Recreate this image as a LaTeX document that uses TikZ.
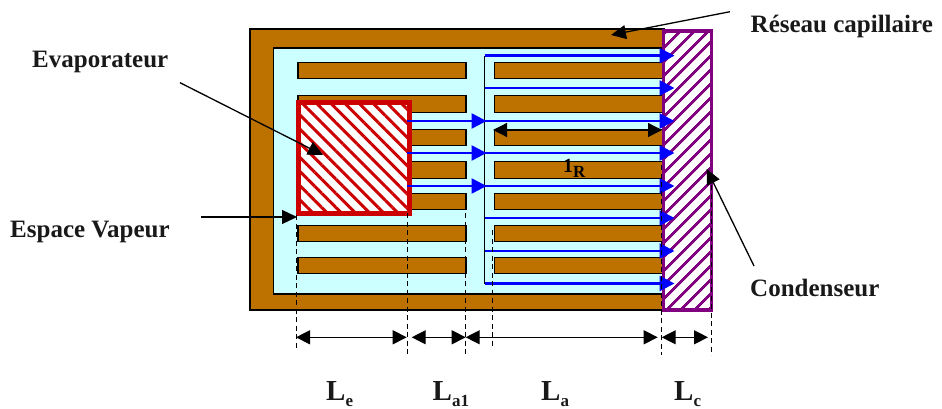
\documentclass[tikz,border=0pt]{standalone}
\usepackage{fontspec}
\setmainfont{Liberation Serif}
\usepackage{xcolor}
\usetikzlibrary{arrows.meta, patterns.meta}
\definecolor{wickbrown}{HTML}{BD7200}
\definecolor{vapourcyan}{HTML}{CCFFFF}
\definecolor{evapred}{HTML}{CC0000}
\definecolor{condpurple}{HTML}{800080}
\tikzset{
  wick/.style     = {draw=black, line width=1.3pt, fill=wickbrown, inner sep=0pt,
                     outer sep=0pt},
  vapour/.style   = {draw=black, line width=1.3pt, fill=vapourcyan, inner sep=0pt,
                     outer sep=0pt},
  bar/.style      = {wick, minimum height=16.5pt},
  leftbar/.style  = {bar, minimum width=168pt},
  rightbar/.style = {bar, minimum width=168pt},
  evap/.style     = {draw=evapred, line width=5pt, inner sep=0pt, outer sep=0pt,
                     preaction={fill=white},
                     pattern={Lines[angle=-45,distance=10pt,line width=3pt]},
                     pattern color=evapred},
  cond/.style     = {draw=condpurple, line width=3.3pt, inner sep=0pt, outer sep=0pt,
                     preaction={fill=white},
                     pattern={Lines[angle=45,distance=10.5pt,line width=3pt]},
                     pattern color=condpurple},
  flow/.style     = {-{Triangle[length=15pt,width=15pt]}, line width=2.6pt, blue},
  feeder/.style   = {-, line width=1.2pt, black},
  leader/.style   = {-{Triangle[length=15pt,width=14pt]}, line width=1.3pt, black},
  span/.style     = {{Triangle[length=14pt,width=14pt]}-{Triangle[length=14pt,width=14pt]},
                     line width=1.3pt, black},
  guide/.style    = {-, line width=0.9pt, black, dash pattern=on 5pt off 3.5pt},
  tag/.style      = {anchor=base west, inner sep=0pt, text=black!90,
                     font=\fontsize{25}{25}\selectfont\bfseries},
  dimtag/.style   = {anchor=base west, inner sep=0pt, text=black!90,
                     font=\fontsize{29}{29}\selectfont\bfseries},
}
\newcommand{\dimsub}[2]{#1\raisebox{-0.22em}{\fontsize{17}{17}\selectfont #2}}

\begin{document}
\begin{tikzpicture}[x=1pt,y=-1pt]
    \useasboundingbox (0,0) rectangle (942,409);
    % --- envelope -----------------------------------------------------
    \node[wick, minimum width=414pt, minimum height=281pt] (wall) at (457,169.5) {};
    \node[vapour, minimum width=389pt, minimum height=246pt] (core) at (468,171) {};
    % --- left bars ----------------------------------------------------
    \node[leftbar] (la) at (382,70.5) {};
    \node[leftbar] (lb) at (382,104) {};
    \node[leftbar] (lc) at (382,137.5) {};
    \node[leftbar] (ld) at (382,170) {};
    \node[leftbar] (le) at (382,201.5) {};
    \node[leftbar] (lf) at (382,233.5) {};
    \node[leftbar] (lg) at (382,265.5) {};
    % --- right bars ---------------------------------------------------
    \node[rightbar] (ra) at (578.5,70.5) {};
    \node[rightbar] (rb) at (578.5,104) {};
    \node[rightbar] (rc) at (578.5,137.5) {};
    \node[rightbar] (rd) at (578.5,170) {};
    \node[rightbar] (re) at (578.5,201.5) {};
    \node[rightbar] (rf) at (578.5,233.5) {};
    \node[rightbar] (rg) at (578.5,265.5) {};
    % --- evaporator and condenser -------------------------------------
    \node[cond, minimum width=48.4pt, minimum height=279pt] (condenser) at (687.5,170.5) {};
    \node[evap, minimum width=111pt, minimum height=110.5pt] (evaporator) at (354,157.75) {};
    % --- labels -------------------------------------------------------
    \node[tag] (evaptag) at (32,68) {Evaporateur};
    \node[tag] (espacetag) at (10,237) {Espace Vapeur};
    \node[tag] (reseautag) at (750.5,32.7) {Réseau capillaire};
    \node[tag] (condtag) at (750,296.7) {Condenseur};
    \node[anchor=base west, inner sep=0pt, font=\fontsize{20}{20}\selectfont\bfseries] (lrtag) at (563,172.7) {\dimsub{1}{R}};
    \node[dimtag] (letag) at (326,400) {\dimsub{L}{e}};
    \node[dimtag] (latag) at (432.5,400) {\dimsub{L}{a1}};
    \node[dimtag] (aatag) at (541,400) {\dimsub{L}{a}};
    \node[dimtag] (lctag) at (674,400) {\dimsub{L}{c}};
    % --- flow ---------------------------------------------------------
    \coordinate (headtop) at (484.5,55.7);
    \coordinate (headbot) at (484.5,283.5);
    \coordinate (capend) at (674.5,0);
    \coordinate (feedend) at (486.5,0);
    \coordinate (fb) at (484.5,88);
    \coordinate (fc) at (484.5,121);
    \coordinate (fd) at (484.5,153);
    \coordinate (fe) at (484.5,186);
    \coordinate (ff) at (484.5,218);
    \coordinate (fg) at (484.5,251);
    \coordinate (ec) at (407,121);
    \coordinate (ed) at (407,153);
    \coordinate (ee) at (407,186);
    \draw[feeder] (headtop) -- (headbot);
    \draw[flow] (headtop) -- (headtop -| capend);
    \draw[flow] (fb) -- (fb -| capend);
    \draw[flow] (fc) -- (fc -| capend);
    \draw[flow] (fd) -- (fd -| capend);
    \draw[flow] (fe) -- (fe -| capend);
    \draw[flow] (ff) -- (ff -| capend);
    \draw[flow] (fg) -- (fg -| capend);
    \draw[flow] (headbot) -- (headbot -| capend);
    \draw[flow] (ec) -- (ec -| feedend);
    \draw[flow] (ed) -- (ed -| feedend);
    \draw[flow] (ee) -- (ee -| feedend);
    % --- guides -------------------------------------------------------
    \coordinate (ga) at (296,215);
    \coordinate (gaa) at (296,350);
    \coordinate (gb) at (407,213);
    \coordinate (gbb) at (407,354);
    \coordinate (gc) at (465.6,213);
    \coordinate (gcc) at (465.6,355);
    \coordinate (gd) at (492,230);
    \coordinate (gdd) at (492,347);
    \coordinate (ge) at (661,165);
    \coordinate (gee) at (661,355);
    \coordinate (gf) at (711,185);
    \coordinate (gff) at (711,355);
    \draw[guide] (ga) -- (gaa);
    \draw[guide] (gb) -- (gbb);
    \draw[guide] (gc) -- (gcc);
    \draw[guide] (gd) -- (gdd);
    \draw[guide] (ge) -- (gee);
    \draw[guide] (gf) -- (gff);
    % --- spans --------------------------------------------------------
    \coordinate (sa) at (296,337.3);
    \coordinate (sb) at (406.7,337.3);
    \coordinate (sc) at (411.7,337.3);
    \coordinate (sd) at (465.7,337.3);
    \coordinate (se) at (657.7,337.3);
    \coordinate (sf) at (661.7,337.3);
    \coordinate (sg) at (708,337.3);
    \coordinate (ra-l) at (493,130);
    \coordinate (ra-r) at (662,130);
    \draw[span] (sa) -- (sb);
    \draw[span] (sc) -- (sd);
    \draw[span] (sd) -- (se);
    \draw[span] (sf) -- (sg);
    \draw[span] (ra-l) -- (ra-r);
    % --- leaders ------------------------------------------------------
    \coordinate (evaptail) at (180,82.7);
    \coordinate (evaptip) at (323,155);
    \coordinate (espacetail) at (201,217);
    \coordinate (espacetip) at (297,217);
    \coordinate (reseautail) at (730,11.7);
    \coordinate (reseautip) at (611,35);
    \coordinate (condtail) at (754,266);
    \coordinate (condtip) at (706.7,169);
    \draw[leader] (evaptail) -- (evaptip);
    \draw[leader] (espacetail) -- (espacetip);
    \draw[leader] (reseautail) -- (reseautip);
    \draw[leader] (condtail) -- (condtip);
  \end{tikzpicture}
\end{document}
